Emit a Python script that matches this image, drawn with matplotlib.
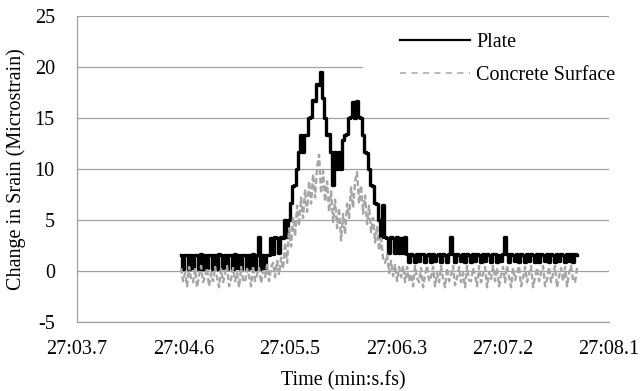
import numpy as np
import matplotlib
matplotlib.use("Agg")
from matplotlib import pyplot as plt
from matplotlib.patches import Rectangle

# sample clock (seconds after 27:00)
start_time = 4.585
sample_interval = 0.01624

plate = [
    1.6, 0.2, 1.6, 1.6, 0.2, 1.6, 0.3, 1.6, 1.6, 0.2,
    1.7, 0.2, 1.6, 0.3, 1.6, 1.6, 0.2, 1.6, 0.2, 1.7,
    1.6, 0.3, 1.6, 0.2, 1.6, 1.6, 0.2, 1.7, 0.3, 1.6,
    0.2, 1.6, 1.6, 0.2, 1.6, 0.3, 1.7, 0.2, 1.6, 3.3,
    0.2, 1.6, 0.3, 1.6, 1.6,
    3.2, 1.7, 3.3, 3.2, 1.8, 3.3, 3.2, 5.0, 3.3, 5.0,
    6.7, 8.3, 8.4, 10.0, 11.7, 13.3, 11.7, 13.3, 13.3, 15.0,
    15.1, 16.8, 16.7, 18.3, 18.2, 19.5, 17.0, 15.0, 13.3, 13.4,
    11.7, 8.4, 11.7, 10.0, 11.7, 10.0, 12.8, 13.3, 13.4, 15.0,
    15.1, 16.6, 15.0, 16.7, 15.1, 15.0, 13.3, 11.7, 11.6, 10.0,
    8.4, 8.3, 6.7, 6.6, 5.0, 3.3, 6.5, 3.3, 3.2, 1.8,
    3.3, 3.2, 1.8, 3.3, 1.8, 3.2, 1.8, 3.3,
    1.7, 0.9, 1.7, 1.6, 0.9, 1.7, 1.0, 1.7, 1.7, 0.9,
    1.6, 1.7, 0.9, 1.7, 1.0, 1.6, 1.7, 0.9, 1.7, 1.6,
    0.9, 1.7, 3.3, 1.7, 0.9, 1.7, 1.6, 1.0, 1.7, 0.9,
    1.7, 1.6, 0.9, 1.7, 1.0, 1.7, 1.6, 0.9, 1.7, 1.0,
    1.7, 1.6, 0.9, 1.7, 1.7, 0.9, 1.6, 1.0, 1.7, 3.3,
    1.7, 0.9, 1.7, 1.6, 1.0, 1.7, 0.9, 1.7, 1.6, 0.9,
    1.7, 1.0, 1.7, 1.6, 0.9, 1.7, 0.9, 1.7, 1.6, 1.0,
    1.7, 0.9, 1.7, 1.6, 0.9, 1.7, 1.0, 1.7, 1.6, 0.9,
    1.7, 1.0, 1.7, 0.9, 1.7, 1.6,
]

concrete = [
    0.3, -1.0, -0.2, -1.5, 0.4, -0.8, -1.1, 0.2, -1.6, -0.4,
    0.5, -1.1, -0.6, 0.3, -1.5, -0.2, -1.0, 0.4, -0.7, -1.6,
    0.2, -1.1, -0.3, 0.5, -1.5, -0.8, 0.3, -1.0, -0.2, -1.6,
    0.4, -0.9, -1.1, 0.2, -0.5, -1.5, 0.5, -1.0, -0.3, 0.3,
    -1.2, 0.0, -0.6, 0.6, -1.0, 0.4,
    0.8, -0.6, 1.0, -0.3, 1.3, 0.2,
    2.8, 0.8, 4.2, 2.4, 5.3, 3.4, 6.4, 4.4, 7.2, 5.2,
    8.0, 5.8, 8.8, 6.6, 9.5, 7.2, 10.2, 11.4, 7.6, 9.8,
    6.8, 8.8, 5.8, 7.8, 4.8, 7.0, 4.2, 6.2, 3.0, 5.6,
    3.6, 6.6, 5.2, 8.2, 6.2, 8.8, 9.7, 6.6, 8.4, 5.6,
    7.4, 4.6, 6.4, 3.8, 5.2, 2.8, 4.4, 2.0, 3.2, 1.2,
    0.8, 1.6, -0.2, 1.0, -0.5, 0.6, -1.0, 0.4, -0.6, 0.5, -1.1,
    0.4, -1.0, -0.3, -1.5, 0.5, -0.7, -1.1, 0.3, -1.6, -0.4,
    0.5, -1.0, -0.6, 0.4, -1.5, -0.2, -1.1, 0.5, -0.8, -1.6,
    0.3, -1.0, -0.4, 0.5, -1.4, -0.7, 0.4, -1.1, -0.2, -1.6,
    0.5, -0.9, -1.0, 0.3, -0.5, -1.5, 0.5, -1.1, -0.3, 0.4,
    -1.6, -0.1, -0.8, 0.5, -1.0, 0.3, -1.5, -0.4, 0.4, -1.1,
    0.5, -0.6, -1.6, 0.3, -0.9, -0.2, 0.5, -1.5, -0.7, 0.4,
    -1.1, -0.3, 0.5, -1.6, -0.6, 0.3, -1.0, -0.2, 0.5, -1.5,
    -0.8, 0.4, -1.1, -0.3, 0.5, -1.6, -0.5, 0.3, -1.0, 0.4,
    -1.5, -0.2, 0.5, -0.9, -1.1, 0.3,
]

x_labels = ["27:03.7", "27:04.6", "27:05.5", "27:06.3", "27:07.2", "27:08.1"]
x_first = 3.74
x_step = 0.864

plt.rcParams['font.family'] = ['Liberation Serif', 'DejaVu Serif']
plt.rcParams['axes.unicode_minus'] = False
fs = 14.5
grey = '#a0a0a0'

fig = plt.figure(figsize=(6.42, 3.91), dpi=100)
ax = fig.add_axes([0.12, 0.1765, 0.8286, 0.7826])

t_plate = start_time + sample_interval * np.arange(len(plate))
t_conc = start_time + sample_interval * np.arange(len(concrete))
ax.plot(t_plate, plate, color='black', lw=2.4, drawstyle='steps-mid',
        label='Plate', zorder=3)
ax.plot(t_conc, concrete, color='#a6a6a6', lw=1.7,
        linestyle=(0, (2.5, 1.2)), label='Concrete Surface', zorder=4)

ax.set_ylim(-5, 25)
ax.set_yticks(range(-5, 26, 5))
ticks = [x_first + k * x_step for k in range(len(x_labels))]
ax.set_xlim(ticks[0], ticks[-1])
ax.set_xticks(ticks)
ax.set_xticklabels(x_labels)

ax.set_axisbelow(True)
ax.yaxis.grid(True, color=grey, lw=0.9)
for s in ['top', 'right']:
    ax.spines[s].set_visible(False)
for s in ['left', 'bottom']:
    ax.spines[s].set_color(grey)
    ax.spines[s].set_linewidth(0.9)
ax.tick_params(axis='y', length=0, pad=16, labelsize=fs)
ax.tick_params(axis='x', length=0, pad=13, labelsize=fs)

ax.set_ylabel('Change in Srain (Microstrain)', fontsize=fs, labelpad=6)
ax.set_xlabel('Time (min:s.fs)', fontsize=fs, labelpad=9)

# white block behind the legend
ax.add_patch(Rectangle((0.5376, 0.742), 0.47, 0.245, transform=ax.transAxes,
                       facecolor='white', edgecolor='none', zorder=1))
leg = ax.legend(loc='upper left', bbox_to_anchor=(0.607, 0.945), frameon=False,
                fontsize=fs, handlelength=3.5, handletextpad=0.3, borderpad=0,
                borderaxespad=0, labelspacing=0.7)
leg.get_lines()[0].set_linewidth(1.6)
leg.get_lines()[1].set_linewidth(1.1)
leg.get_lines()[1].set_linestyle((0, (4, 3.5)))

fig.savefig('out.png', dpi=100)
